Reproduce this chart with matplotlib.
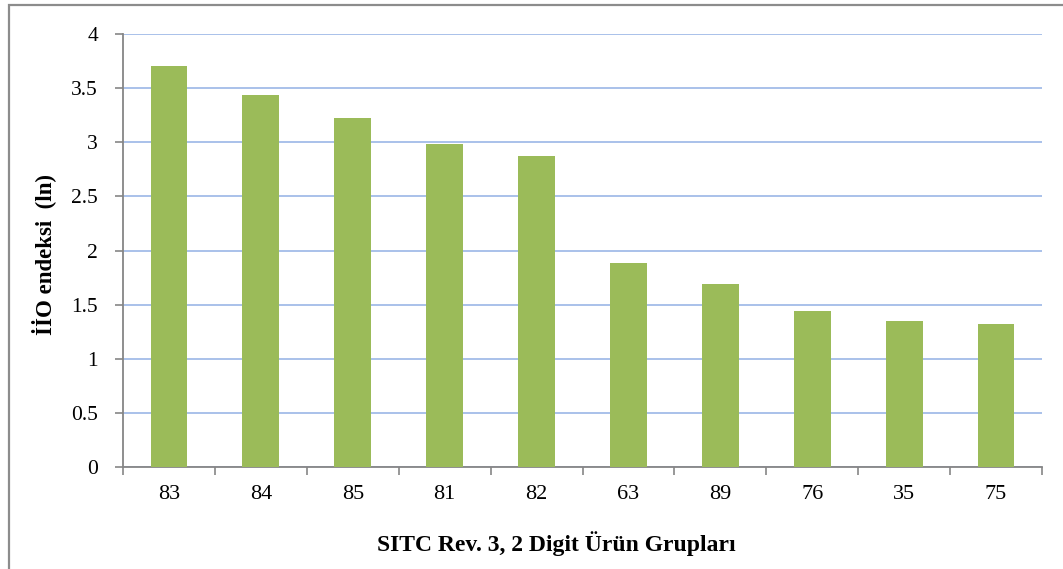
import matplotlib.pyplot as plt
from matplotlib.patches import Rectangle

plt.rcParams['font.family'] = ['Liberation Serif', 'DejaVu Serif']

groups = ['83', '84', '85', '81', '82', '63', '89', '76', '35', '75']
iio = [3.70, 3.44, 3.22, 2.98, 2.87, 1.88, 1.69, 1.44, 1.35, 1.32]

fig = plt.figure(figsize=(10.63, 5.69), dpi=100)
ax = fig.add_axes([0.1157, 0.1793, 0.8646, 0.7609])

# outer frame of the chart (cut off at right and bottom)
fig.patches.append(Rectangle((9 / 1063, -0.05), 1.2, 1 - 5 / 569 + 0.05,
                             transform=fig.transFigure, fill=False,
                             edgecolor='#8c8c8c', linewidth=1.6))

x = range(len(groups))
ax.bar(x, iio, width=0.4, color='#9BBB59', zorder=3)

ax.set_xlim(-0.5, len(groups) - 0.5)
ax.set_ylim(0, 4)
ax.set_yticks([0, 0.5, 1, 1.5, 2, 2.5, 3, 3.5, 4])
ax.set_yticklabels(['0', '0.5', '1', '1.5', '2', '2.5', '3', '3.5', '4'])
ax.set_xticks(list(x))
ax.set_xticklabels(groups)
ax.set_xticks([i - 0.5 for i in range(len(groups) + 1)], minor=True)
ax.tick_params(axis='x', which='major', length=0, pad=13, labelsize=16)
ax.tick_params(axis='x', which='minor', length=6, color='#868686', width=1.2)
ax.tick_params(axis='y', length=6, color='#868686', width=1.2, pad=12, labelsize=15.5)

ax.grid(axis='y', color='#A3BCE8', linewidth=1.3, zorder=0)
for s in ['top', 'right']:
    ax.spines[s].set_visible(False)
for s in ['left', 'bottom']:
    ax.spines[s].set_color('#868686')
    ax.spines[s].set_linewidth(1.3)

ax.set_ylabel('İİO endeksi  (ln)', fontsize=16.5, fontweight='bold')
ax.yaxis.set_label_coords(-0.073, 0.49)
ax.set_xlabel('SITC Rev. 3, 2 Digit Ürün Grupları', fontsize=17,
              fontweight='bold')
ax.xaxis.set_label_coords(0.471, -0.148)

fig.savefig('out.png', dpi=100)
